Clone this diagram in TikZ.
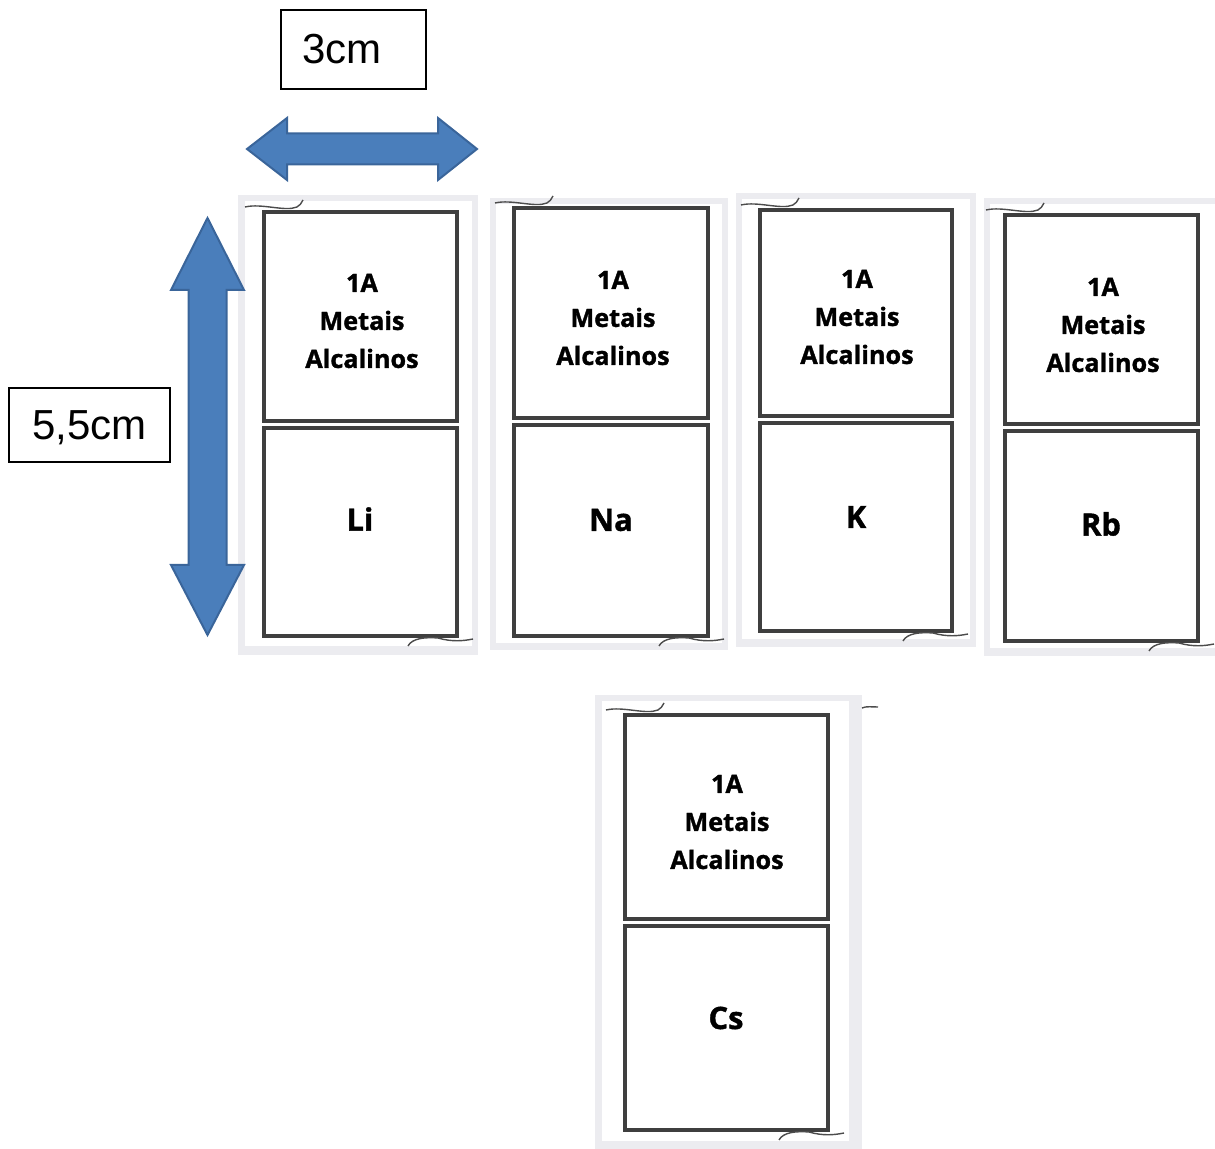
\documentclass[tikz,border=0pt]{standalone}
\usepackage{fontspec}
\setmainfont{Liberation Sans}
\newfontfamily\cardfont[BoldFeatures={FakeBold=1.3}]{Open Sans}

\definecolor{arrowblue}{HTML}{4A7EBB}
\definecolor{arrowedge}{HTML}{3A659A}
\definecolor{panelgray}{HTML}{ECECF0}
\definecolor{cardline}{HTML}{3F3F3F}

\begin{document}
\begin{tikzpicture}[x=0.5pt, y=-0.5pt,
    panel/.style = {fill=panelgray},
    half/.style = {draw=cardline, line width=2pt},
    curl/.style = {line width=0.7pt, black!70},
    group/.style = {font=\cardfont\bfseries\fontsize{12.6}{19}\selectfont, align=center},
    symbol/.style = {font=\cardfont\bfseries\fontsize{15.4}{18}\selectfont},
    dimbox/.style = {draw, line width=0.75pt, font=\fontsize{21}{25}\selectfont},
    bigarrow/.style = {fill=arrowblue, draw=arrowedge, line width=1pt}]
    \useasboundingbox (0,0) rectangle (1215,1149);

    % screenshot panels
    \fill[panel] (238,195) rectangle (478,655);
    \fill[white] (245,201) rectangle (472,646);
    \fill[panel] (490,198) rectangle (728,650);
    \fill[white] (496,204) rectangle (722,643);
    \fill[panel] (736,193) rectangle (976,647);
    \fill[white] (742,199) rectangle (970,639);
    \fill[panel] (984,198) rectangle (1215,656);
    \fill[white] (990,204) rectangle (1215,648);
    \fill[panel] (595,695) rectangle (862,1149);
    \fill[white] (602,701) rectangle (849,1141);
    \fill[white] (862,701) rectangle (880,1141);

    % dimensions
    \node[dimbox, text width=51.5pt, inner xsep=10.5pt, align=left, minimum height=39.5pt] (width) at (353.5,49.5) {3cm};
    \node[dimbox, minimum width=80.5pt, minimum height=37pt, text depth=0pt] (height) at (89.5,425) {5,5cm};
    \draw[bigarrow] (247,149) -- (287,118) -- (287,133.5) -- (438,133.5) -- (438,118) -- (477,149)
        -- (438,180) -- (438,164.5) -- (287,164.5) -- (287,180) -- cycle;
    \draw[bigarrow] (207.5,218) -- (244,290) -- (226.5,290) -- (226.5,565) -- (244,565) -- (207.5,635)
        -- (171,565) -- (188.5,565) -- (188.5,290) -- (171,290) -- cycle;

    % Li
    \draw[half] (264,212) rectangle (457,421);
    \draw[half] (264,428) rectangle (457,636);
    \node[group] (li-group) at (362,321) {1A\\Metais\\Alcalinos};
    \node[symbol] (li) at (360,519) {Li};
    \draw[curl] (245,207) .. controls +(17,-4) and +(-12,5) .. ++(52,0) .. controls +(3,-1) and +(-2,3) .. ++(6,-7);
    \draw[curl] (408,646) .. controls +(4,-8) and +(-12,-1) .. ++(30,-8) .. controls +(14,4) and +(-10,2) .. ++(35,1);

    % Na
    \draw[half] (514,208) rectangle (708,418);
    \draw[half] (514,425) rectangle (708,636);
    \node[group] (na-group) at (613,318) {1A\\Metais\\Alcalinos};
    \node[symbol] (na) at (611,520) {Na};
    \draw[curl] (495,203) .. controls +(17,-4) and +(-12,5) .. ++(52,0) .. controls +(3,-1) and +(-2,3) .. ++(6,-7);
    \draw[curl] (659,646) .. controls +(4,-8) and +(-12,-1) .. ++(30,-8) .. controls +(14,4) and +(-10,2) .. ++(35,1);

    % K
    \draw[half] (760,210) rectangle (952,416);
    \draw[half] (760,423) rectangle (952,631);
    \node[group] (k-group) at (857,317) {1A\\Metais\\Alcalinos};
    \node[symbol] (k) at (856,517) {K};
    \draw[curl] (741,205) .. controls +(17,-4) and +(-12,5) .. ++(52,0) .. controls +(3,-1) and +(-2,3) .. ++(6,-7);
    \draw[curl] (903,641) .. controls +(4,-8) and +(-12,-1) .. ++(30,-8) .. controls +(14,4) and +(-10,2) .. ++(35,1);

    % Rb
    \draw[half] (1005,215) rectangle (1198,424);
    \draw[half] (1005,431) rectangle (1198,641);
    \node[group] (rb-group) at (1103,325) {1A\\Metais\\Alcalinos};
    \node[symbol] (rb) at (1101,524) {Rb};
    \draw[curl] (986,210) .. controls +(17,-4) and +(-12,5) .. ++(52,0) .. controls +(3,-1) and +(-2,3) .. ++(6,-7);
    \draw[curl] (1149,651) .. controls +(4,-8) and +(-12,-1) .. ++(30,-8) .. controls +(14,4) and +(-10,2) .. ++(35,1);

    % Cs
    \draw[half] (625,715) rectangle (828,919);
    \draw[half] (625,926) rectangle (828,1130);
    \node[group] (cs-group) at (727,822) {1A\\Metais\\Alcalinos};
    \node[symbol] (cs) at (726,1018) {Cs};
    \draw[curl] (606,710) .. controls +(17,-4) and +(-12,5) .. ++(52,0) .. controls +(3,-1) and +(-2,3) .. ++(6,-7);
    \draw[curl] (779,1140) .. controls +(4,-8) and +(-12,-1) .. ++(30,-8) .. controls +(14,4) and +(-10,2) .. ++(35,1);
    \draw[curl] (862,708) .. controls (866,706) and (872,707) .. (878,707);
\end{tikzpicture}
\end{document}
